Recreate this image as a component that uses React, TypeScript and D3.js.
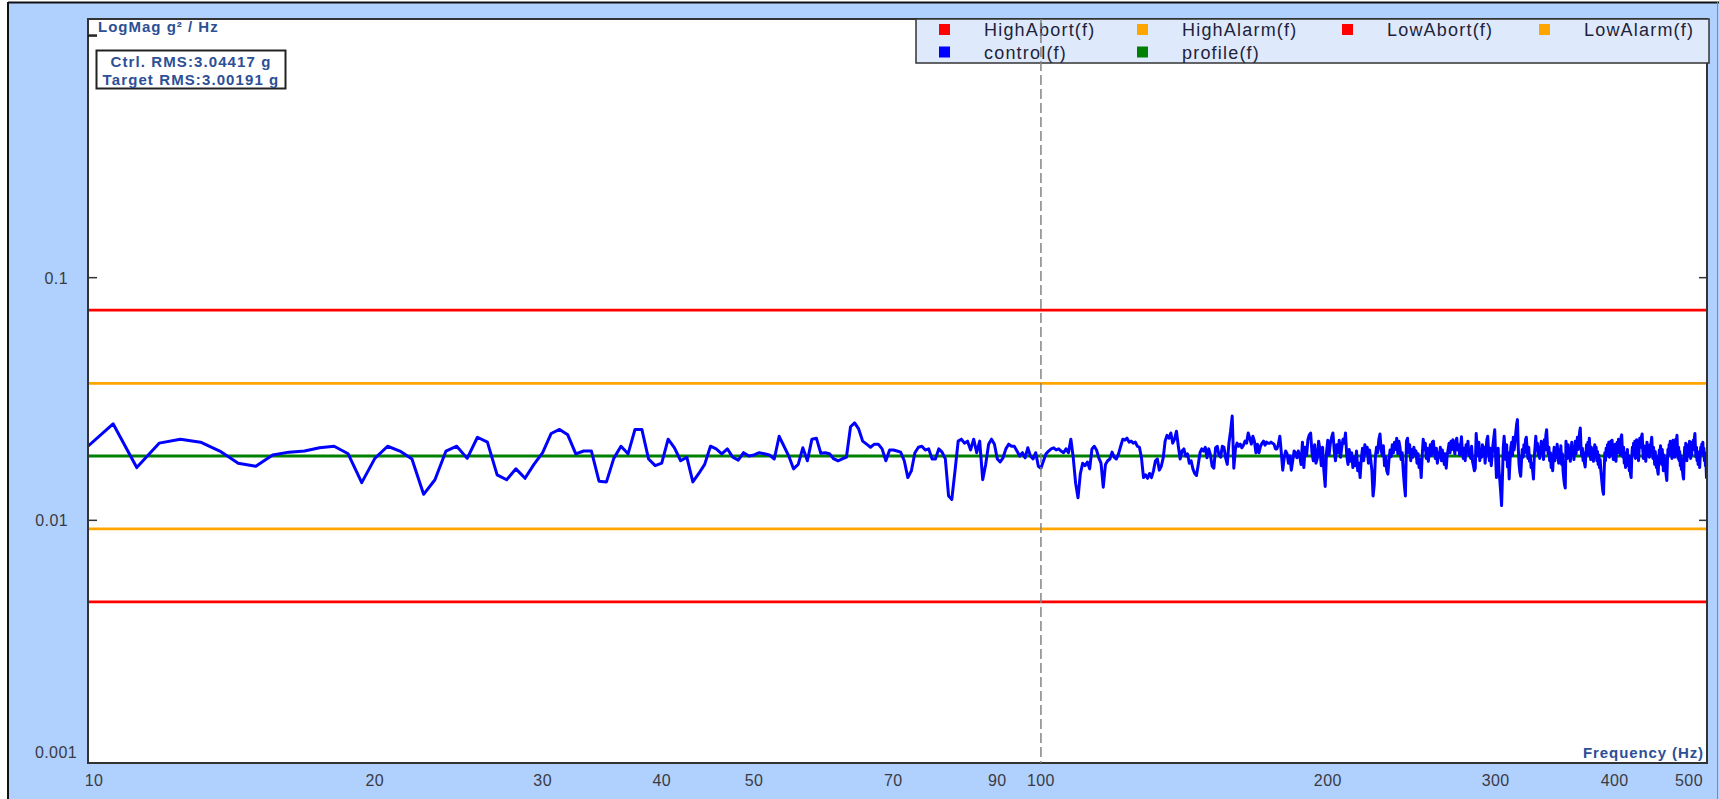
import React from "react";
import * as d3 from "d3";

// chart values
const FREQ_START = 10; // Hz, first bin
const FREQ_STEP = 0.625; // Hz, bin spacing
const FREQ_RANGE = [10, 500];
const PSD_RANGE = [0.001, 1];

const xTickValues = [10, 20, 30, 40, 50, 70, 90, 100, 200, 300, 400, 500];
const yTickValues = [0.1, 0.01, 0.001];
const yMinorMarks = [1, 0.1, 0.01];

const limitFreqs = [10, 500];
const highAbort = [0.0735, 0.0735];
const highAlarm = [0.0367, 0.0367];
const profile = [0.0184, 0.0184];
const lowAlarm = [0.00922, 0.00922];
const lowAbort = [0.00461, 0.00461];

// control(f), g²/Hz, one value per bin
const controlPsd = [
  0.0202, 0.0250, 0.0165, 0.0208, 0.0216, 0.0210, 0.0193, 0.0172, 0.0167, 0.0186,
  0.0191, 0.0193, 0.0199, 0.0202, 0.0188, 0.0143, 0.0180, 0.0202, 0.0193, 0.0179,
  0.0128, 0.0147, 0.0193, 0.0202, 0.0180, 0.0220, 0.0210, 0.0154, 0.0147, 0.0163,
  0.0149, 0.0170, 0.0190, 0.0228, 0.0237, 0.0225, 0.0188, 0.0193, 0.0193, 0.0145,
  0.0144, 0.0180, 0.0202, 0.0188, 0.0237, 0.0237, 0.0179, 0.0168, 0.0172, 0.0216,
  0.0199, 0.0176, 0.0182, 0.0144, 0.0156, 0.0170, 0.0202, 0.0197, 0.0188, 0.0197,
  0.0182, 0.0177, 0.0190, 0.0184, 0.0186, 0.0190, 0.0188, 0.0186, 0.0179, 0.0222,
  0.0202, 0.0184, 0.0163, 0.0170, 0.0199, 0.0176, 0.0216, 0.0218, 0.0189, 0.0190,
  0.0188, 0.0179, 0.0176, 0.0179, 0.0182, 0.0243, 0.0252, 0.0238, 0.0212, 0.0206,
  0.0200, 0.0206, 0.0206, 0.0197, 0.0176, 0.0195, 0.0195, 0.0193, 0.0191, 0.0176,
  0.0150, 0.0160, 0.0190, 0.0200, 0.0202, 0.0195, 0.0197, 0.0179, 0.0179, 0.0197,
  0.0191, 0.0179, 0.0126, 0.0122, 0.0160, 0.0212, 0.0216, 0.0208, 0.0212, 0.0195,
  0.0216, 0.0190, 0.0212, 0.0147, 0.0170, 0.0206, 0.0216, 0.0206, 0.0179, 0.0174,
  0.0181, 0.0197, 0.0206, 0.0202, 0.0202, 0.0193, 0.0184, 0.0190, 0.0181, 0.0199,
  0.0184, 0.0179, 0.0190, 0.0167, 0.0164, 0.0176, 0.0188, 0.0193, 0.0197, 0.0199,
  0.0195, 0.0197, 0.0193, 0.0190, 0.0197, 0.0190, 0.0216, 0.0181, 0.0142, 0.0124,
  0.0156, 0.0172, 0.0168, 0.0174, 0.0163, 0.0197, 0.0202, 0.0195, 0.0181, 0.0172,
  0.0137, 0.0170, 0.0176, 0.0179, 0.0191, 0.0182, 0.0179, 0.0188, 0.0202, 0.0216,
  0.0214, 0.0218, 0.0210, 0.0212, 0.0208, 0.0210, 0.0202, 0.0200, 0.0181, 0.0150,
  0.0154, 0.0149, 0.0156, 0.0150, 0.0160, 0.0176, 0.0179, 0.0161, 0.0167, 0.0181,
  0.0212, 0.0224, 0.0218, 0.0229, 0.0208, 0.0216, 0.0233, 0.0202, 0.0179, 0.0193,
  0.0197, 0.0184, 0.0188, 0.0172, 0.0176, 0.0163, 0.0156, 0.0153, 0.0170, 0.0190,
  0.0197, 0.0193, 0.0200, 0.0181, 0.0197, 0.0186, 0.0167, 0.0164, 0.0199, 0.0202,
  0.0186, 0.0182, 0.0202, 0.0200, 0.0181, 0.0170, 0.0208, 0.0233, 0.0269, 0.0164,
  0.0197, 0.0208, 0.0202, 0.0206, 0.0199, 0.0204, 0.0212, 0.0208, 0.0229, 0.0218,
  0.0206, 0.0222, 0.0212, 0.0190, 0.0206, 0.0190, 0.0202, 0.0208, 0.0212, 0.0204,
  0.0210, 0.0208, 0.0208, 0.0210, 0.0208, 0.0206, 0.0197, 0.0197, 0.0206, 0.0222,
  0.0190, 0.0161, 0.0181, 0.0193, 0.0188, 0.0172, 0.0184, 0.0161, 0.0176, 0.0193,
  0.0190, 0.0181, 0.0193, 0.0184, 0.0170, 0.0210, 0.0165, 0.0200, 0.0185, 0.0215,
  0.0225, 0.0229, 0.0190, 0.0176, 0.0205, 0.0172, 0.0180, 0.0212, 0.0196, 0.0168,
  0.0200, 0.0160, 0.0138, 0.0190, 0.0214, 0.0186, 0.0208, 0.0220, 0.0229, 0.0195,
  0.0176, 0.0205, 0.0190, 0.0214, 0.0182, 0.0200, 0.0216, 0.0208, 0.0229, 0.0185,
  0.0170, 0.0196, 0.0175, 0.0190, 0.0165, 0.0182, 0.0168, 0.0193, 0.0160, 0.0172,
  0.0150, 0.0180, 0.0198, 0.0176, 0.0205, 0.0188, 0.0200, 0.0172, 0.0195, 0.0178,
  0.0160, 0.0126, 0.0140, 0.0182, 0.0200, 0.0190, 0.0215, 0.0227, 0.0196, 0.0185,
  0.0203, 0.0168, 0.0182, 0.0160, 0.0155, 0.0178, 0.0195, 0.0183, 0.0205, 0.0190,
  0.0210, 0.0196, 0.0218, 0.0188, 0.0212, 0.0200, 0.0178, 0.0190, 0.0160, 0.0140,
  0.0126, 0.0212, 0.0218, 0.0190, 0.0205, 0.0176, 0.0196, 0.0182, 0.0200, 0.0186,
  0.0193, 0.0172, 0.0188, 0.0165, 0.0178, 0.0150, 0.0185, 0.0216, 0.0196, 0.0208,
  0.0180, 0.0198, 0.0175, 0.0192, 0.0205, 0.0185, 0.0210, 0.0212, 0.0190, 0.0180,
  0.0198, 0.0172, 0.0190, 0.0182, 0.0200, 0.0176, 0.0195, 0.0186, 0.0170, 0.0188,
  0.0164, 0.0185, 0.0196, 0.0208, 0.0190, 0.0212, 0.0196, 0.0215, 0.0200, 0.0188,
  0.0210, 0.0218, 0.0195, 0.0205, 0.0186, 0.0200, 0.0221, 0.0190, 0.0180, 0.0198,
  0.0176, 0.0205, 0.0190, 0.0212, 0.0186, 0.0196, 0.0180, 0.0202, 0.0175, 0.0168,
  0.0160, 0.0164, 0.0228, 0.0200, 0.0185, 0.0210, 0.0176, 0.0196, 0.0182, 0.0205,
  0.0188, 0.0200, 0.0172, 0.0193, 0.0215, 0.0222, 0.0190, 0.0176, 0.0198, 0.0168,
  0.0185, 0.0205, 0.0220, 0.0236, 0.0185, 0.0150, 0.0170, 0.0198, 0.0160, 0.0145,
  0.0130, 0.0115, 0.0150, 0.0200, 0.0222, 0.0196, 0.0178, 0.0205, 0.0166, 0.0190,
  0.0148, 0.0175, 0.0200, 0.0210, 0.0185, 0.0220, 0.0195, 0.0210, 0.0230, 0.0248,
  0.0260, 0.0200, 0.0170, 0.0158, 0.0152, 0.0176, 0.0196, 0.0182, 0.0205, 0.0190,
  0.0215, 0.0220, 0.0196, 0.0180, 0.0200, 0.0175, 0.0185, 0.0165, 0.0172, 0.0160,
  0.0148, 0.0182, 0.0200, 0.0222, 0.0195, 0.0208, 0.0186, 0.0200, 0.0180, 0.0196,
  0.0212, 0.0188, 0.0205, 0.0178, 0.0215, 0.0195, 0.0225, 0.0236, 0.0205, 0.0188,
  0.0200, 0.0176, 0.0190, 0.0165, 0.0182, 0.0160, 0.0186, 0.0200, 0.0176, 0.0195,
  0.0182, 0.0206, 0.0190, 0.0172, 0.0196, 0.0180, 0.0203, 0.0170, 0.0188, 0.0160,
  0.0148, 0.0140, 0.0136, 0.0212, 0.0195, 0.0180, 0.0205, 0.0186, 0.0198, 0.0175,
  0.0192, 0.0210, 0.0185, 0.0200, 0.0178, 0.0195, 0.0212, 0.0188, 0.0205, 0.0220,
  0.0196, 0.0215, 0.0230, 0.0240, 0.0200, 0.0185, 0.0198, 0.0176, 0.0190, 0.0172,
  0.0166, 0.0188, 0.0205, 0.0192, 0.0210, 0.0186, 0.0218, 0.0195, 0.0178, 0.0200,
  0.0182, 0.0196, 0.0175, 0.0190, 0.0205, 0.0185, 0.0200, 0.0176, 0.0192, 0.0170,
  0.0186, 0.0165, 0.0178, 0.0160, 0.0150, 0.0140, 0.0132, 0.0128, 0.0160, 0.0190,
  0.0176, 0.0198, 0.0185, 0.0205, 0.0190, 0.0210, 0.0182, 0.0200, 0.0212, 0.0186,
  0.0214, 0.0196, 0.0178, 0.0200, 0.0185, 0.0206, 0.0175, 0.0195, 0.0210, 0.0190,
  0.0216, 0.0198, 0.0212, 0.0186, 0.0220, 0.0225, 0.0196, 0.0182, 0.0200, 0.0172,
  0.0190, 0.0165, 0.0185, 0.0176, 0.0196, 0.0168, 0.0185, 0.0160, 0.0176, 0.0155,
  0.0150, 0.0182, 0.0200, 0.0186, 0.0208, 0.0192, 0.0212, 0.0180, 0.0200, 0.0215,
  0.0190, 0.0206, 0.0176, 0.0198, 0.0218, 0.0200, 0.0212, 0.0222, 0.0227, 0.0195,
  0.0180, 0.0203, 0.0186, 0.0198, 0.0175, 0.0190, 0.0210, 0.0185, 0.0200, 0.0196,
  0.0182, 0.0205, 0.0190, 0.0210, 0.0220, 0.0196, 0.0180, 0.0200, 0.0186, 0.0170,
  0.0192, 0.0175, 0.0165, 0.0182, 0.0160, 0.0155, 0.0178, 0.0195, 0.0182, 0.0203,
  0.0188, 0.0170, 0.0196, 0.0176, 0.0160, 0.0186, 0.0168, 0.0180, 0.0160, 0.0152,
  0.0146, 0.0175, 0.0196, 0.0185, 0.0205, 0.0192, 0.0212, 0.0186, 0.0200, 0.0180,
  0.0198, 0.0214, 0.0190, 0.0206, 0.0182, 0.0200, 0.0216, 0.0210, 0.0224, 0.0196,
  0.0180, 0.0200, 0.0176, 0.0192, 0.0168, 0.0185, 0.0162, 0.0178, 0.0160, 0.0152,
  0.0148, 0.0180, 0.0200, 0.0186, 0.0208, 0.0192, 0.0176, 0.0198, 0.0184, 0.0205,
  0.0190, 0.0212, 0.0196, 0.0180, 0.0200, 0.0186, 0.0210, 0.0195, 0.0214, 0.0200,
  0.0218, 0.0228, 0.0196, 0.0182, 0.0200, 0.0176, 0.0192, 0.0170, 0.0186, 0.0175,
  0.0165, 0.0185, 0.0200, 0.0188, 0.0206, 0.0192, 0.0210, 0.0186, 0.0198, 0.0176,
  0.0190, 0.0168, 0.0175, 0.0150, 0.0160,
];

const legendNames = ["HighAbort(f)", "HighAlarm(f)", "LowAbort(f)", "LowAlarm(f)", "control(f)", "profile(f)"];
const legendColors = ["#ff0000", "#ffa500", "#ff0000", "#ffa500", "#0000ff", "#008000"];

const rmsLines = ["Ctrl. RMS:3.04417 g", "Target RMS:3.00191 g"];

const FONT = "'Liberation Sans', Arial, sans-serif";
const LABEL_BLUE = "#2c4f96";

export default function App() {
  const W = 1719;
  const H = 799;
  const left = 88,
    top = 19,
    right = 1707,
    bottom = 763;

  const x = d3.scaleLog().domain(FREQ_RANGE).range([left, right]);
  const y = d3.scaleLog().domain(PSD_RANGE).range([bottom, 35]);

  const frequencies = controlPsd.map((_, i) => FREQ_START + i * FREQ_STEP);
  const line = d3
    .line<[number, number]>()
    .x((d) => x(d[0]))
    .y((d) => y(d[1]));

  const controlPath = line(frequencies.map((f, i) => [f, controlPsd[i]]) as [number, number][]);
  const flat = (vals: number[]) => line(limitFreqs.map((f, i) => [f, vals[i]]) as [number, number][]);

  // legend: 4 columns, 2 rows
  const colX = [939, 1137, 1342, 1539];
  const rowY = [29.5, 52];

  return (
    <svg
      width={W}
      height={H}
      style={{ position: "absolute", left: 0, top: 0, display: "block", background: "#fff" }}
    >
      <defs>
        <clipPath id="plotClip">
          <rect x={left} y={top} width={right - left} height={bottom - top} />
        </clipPath>
      </defs>

      {/* outer frame */}
      <rect x={8} y={2} width={W - 8} height={H} fill="#b0d1fd" />
      <line x1={8} y1={2.5} x2={W} y2={2.5} stroke="#111" strokeWidth={2} />
      <line x1={8} y1={2} x2={8} y2={H} stroke="#111" strokeWidth={2} />
      <line x1={1717.5} y1={2} x2={1717.5} y2={H} stroke="#6f8fb8" strokeWidth={1} />

      {/* plot area */}
      <rect x={left} y={top} width={right - left} height={bottom - top} fill="#fff" />

      {/* limit + profile lines */}
      <g clipPath="url(#plotClip)" fill="none" strokeWidth={2.8}>
        <path d={flat(highAbort) || ""} stroke="#ff0000" />
        <path d={flat(lowAbort) || ""} stroke="#ff0000" />
        <path d={flat(highAlarm) || ""} stroke="#ffa500" />
        <path d={flat(lowAlarm) || ""} stroke="#ffa500" />
        <path d={flat(profile) || ""} stroke="#008000" strokeWidth={3} />
        <path d={controlPath || ""} stroke="#0000ff" strokeWidth={3} strokeLinejoin="round" />
      </g>

      {/* plot border */}
      <rect x={left} y={top} width={right - left} height={bottom - top} fill="none" stroke="#333" strokeWidth={2} />

      {/* y ticks both sides */}
      {yMinorMarks.map((v) => (
        <g key={"t" + v} stroke="#333" strokeWidth={1.5}>
          <line x1={left} x2={left + 9} y1={y(v)} y2={y(v)} />
          <line x1={right - 8} x2={right} y1={y(v)} y2={y(v)} />
        </g>
      ))}

      {/* y tick labels */}
      {yTickValues.map((v) => {
        const atBottom = v === PSD_RANGE[0];
        return (
          <text
            key={"yl" + v}
            x={atBottom ? 77 : 68}
            y={atBottom ? 758 : y(v) + 6}
            textAnchor="end"
            fontFamily={FONT}
            fontSize={16}
            fill="#3a3a44"
            letterSpacing={0.4}
          >
            {v}
          </text>
        );
      })}

      {/* x tick labels */}
      {xTickValues.map((v) => (
        <text
          key={"xl" + v}
          x={Math.max(94, Math.min(1689, x(v)))}
          y={786}
          textAnchor="middle"
          fontFamily={FONT}
          fontSize={16}
          fill="#3a3a44"
          letterSpacing={0.4}
        >
          {v}
        </text>
      ))}

      {/* axis titles */}
      <line x1={left} x2={left + 9} y1={36} y2={36} stroke="#111" strokeWidth={1.5} />
      <text x={98} y={32} fontFamily={FONT} fontWeight="bold" fontSize={15} fill={LABEL_BLUE} letterSpacing={1}>
        LogMag g² / Hz
      </text>
      <text
        x={1704}
        y={758}
        textAnchor="end"
        fontFamily={FONT}
        fontWeight="bold"
        fontSize={15}
        fill={LABEL_BLUE}
        letterSpacing={0.9}
      >
        Frequency (Hz)
      </text>

      {/* RMS box */}
      <rect x={96.5} y={50.5} width={189} height={38} fill="#fff" stroke="#222" strokeWidth={2} />
      {rmsLines.map((t, i) => (
        <text
          key={t}
          x={191}
          y={67 + i * 17.5}
          textAnchor="middle"
          fontFamily={FONT}
          fontWeight="bold"
          fontSize={15}
          fill={LABEL_BLUE}
          letterSpacing={1.1}
        >
          {t}
        </text>
      ))}

      {/* legend */}
      <rect x={916} y={19} width={793} height={44} fill="#deeafc" stroke="#333" strokeWidth={1.5} />
      {legendNames.map((name, i) => {
        const cx = colX[i % 4];
        const cy = rowY[Math.floor(i / 4)];
        return (
          <g key={name}>
            <rect x={cx} y={cy - 5.5} width={11} height={11} fill={legendColors[i]} />
            <text
              x={cx + 45}
              y={cy + 6.5}
              fontFamily={FONT}
              fontSize={18}
              fill="#22223a"
              letterSpacing={1.2}
            >
              {name}
            </text>
          </g>
        );
      })}

      {/* 100 Hz marker */}
      <line
        x1={x(100)}
        x2={x(100)}
        y1={top}
        y2={bottom}
        stroke="#858585"
        strokeWidth={1.5}
        strokeDasharray="10,4"
      />
    </svg>
  );
}
